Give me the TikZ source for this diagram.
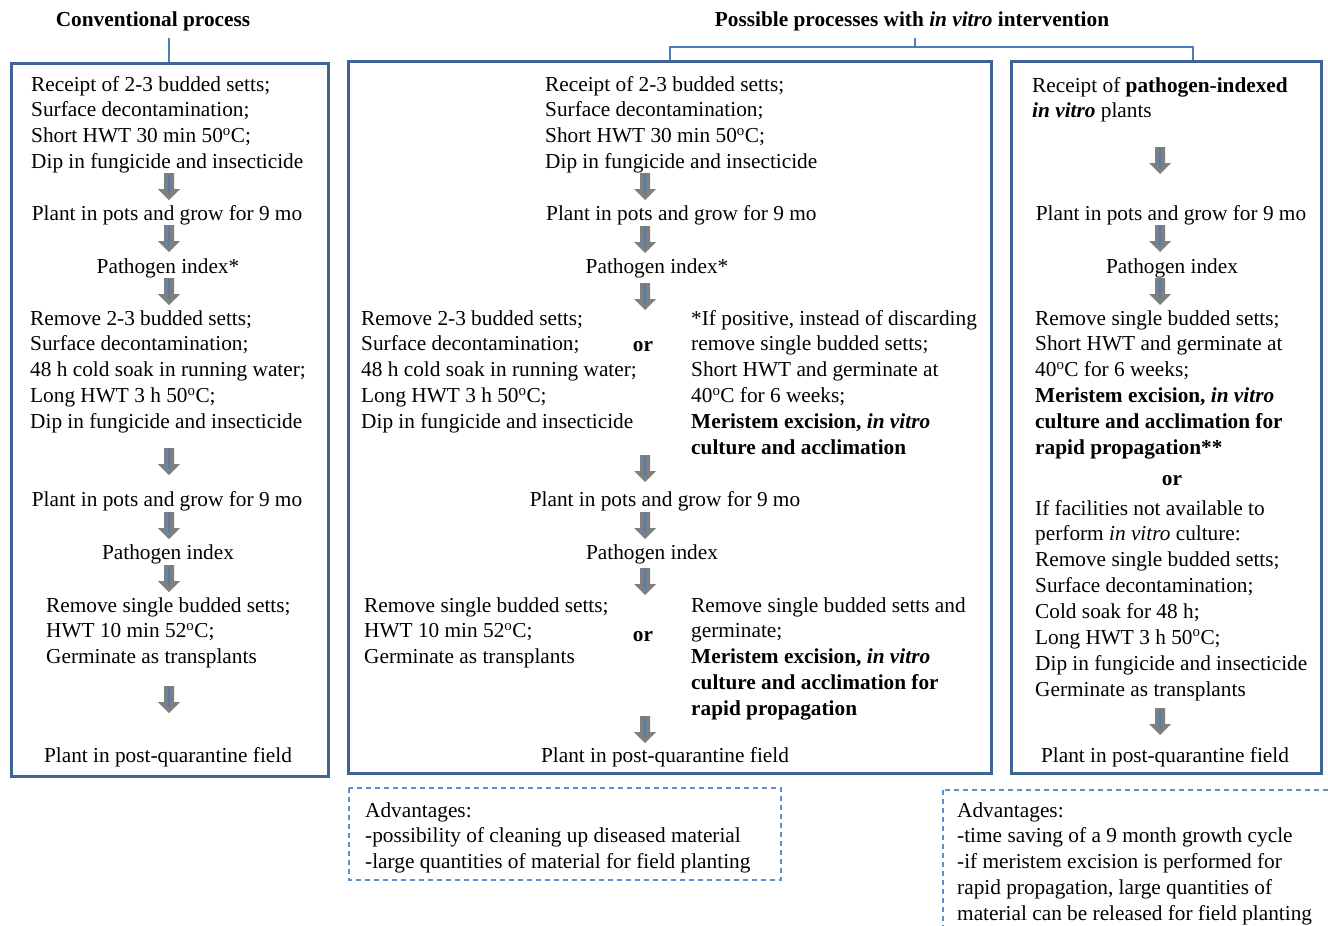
\documentclass[tikz,border=0pt]{standalone}
\usepackage{fontspec}
\setmainfont{Liberation Serif}
\definecolor{boxblue}{HTML}{3F6596}
\definecolor{linkblue}{HTML}{4A7EBB}
\definecolor{dashblue}{HTML}{5B8FD0}
\definecolor{arrgray}{HTML}{7F7F7F}
\newcommand{\dg}{\textsuperscript{o}}
% multi-line nodes are placed by the baseline of their last line
\tikzset{
  txt/.style={inner sep=0pt, anchor=base west, align=left, font=\fontsize{21.3}{25.9}\selectfont},
  ctxt/.style={inner sep=0pt, anchor=base, align=center, font=\fontsize{21.3}{25.9}\selectfont},
  btxt/.style={ctxt, font=\fontsize{21.3}{25.9}\selectfont\bfseries},
  mainbox/.style={draw=boxblue, line width=3pt, inner sep=0pt, anchor=north west},
  advbox/.style={draw=dashblue, line width=1.2pt, dash pattern=on 5pt off 4pt},
  link/.style={draw=linkblue, line width=2pt},
  downarr/.pic={
    \fill[arrgray] (-5,0) -- (5,0) -- (5,16) -- (11,16) -- (0,27) -- (-11,16) -- (-5,16) -- cycle;
    \draw[linkblue, line width=1.2pt] (0,1) -- (0,21);
  }
}
\begin{document}
\begin{tikzpicture}[x=1pt,y=-1pt]
\useasboundingbox (0,0) rectangle (1328,926);
\clip (0,0) rectangle (1328,926);

% titles
\node[btxt] (T1) at (153,26) {Conventional process};
\node[btxt] (T2) at (912,26) {Possible processes with \textit{in vitro} intervention};

% main boxes
\node[mainbox, minimum width=317pt, minimum height=713pt] (boxL) at (10,62) {};
\node[mainbox, minimum width=643pt, minimum height=712pt] (boxM) at (347,60) {};
\node[mainbox, minimum width=310pt, minimum height=712pt] (boxR) at (1010,60) {};

% connectors from titles
\coordinate (cL) at (169,38);
\draw[link] (cL) -- (cL |- boxL.north);
\coordinate (cT) at (915,38);
\coordinate (cH) at (915,47);
\coordinate (cR) at (1193,47);
\draw[link] (cT) -- (cH);
\draw[link] (boxM.north) -- (boxM.north |- cH) -- (cR) -- (cR |- boxR.north);

% ---------- left column ----------
\node[txt] (L1) at (31,168.7) {Receipt of 2-3 budded setts;\\Surface decontamination;\\Short HWT 30 min 50\dg C;\\Dip in fungicide and insecticide};
\pic at (169,173) {downarr};
\node[ctxt] (L2) at (167,220) {Plant in pots and grow for 9 mo};
\pic at (169,225) {downarr};
\node[ctxt] (L3) at (168,273) {Pathogen index*};
\pic at (169,278) {downarr};
\node[txt] (L4) at (30,428.6) {Remove 2-3 budded setts;\\Surface decontamination;\\48 h cold soak in running water;\\Long HWT 3 h 50\dg C;\\Dip in fungicide and insecticide};
\pic at (169,448) {downarr};
\node[ctxt] (L5) at (167,506) {Plant in pots and grow for 9 mo};
\pic at (169,512) {downarr};
\node[ctxt] (L6) at (168,559) {Pathogen index};
\pic at (169,565) {downarr};
\node[txt] (L7) at (46,663.8) {Remove single budded setts;\\HWT 10 min 52\dg C;\\Germinate as transplants};
\pic at (169,686) {downarr};
\node[ctxt] (L8) at (168,762) {Plant in post-quarantine field};

% ---------- middle column ----------
\node[txt] (M1) at (545,168.7) {Receipt of 2-3 budded setts;\\Surface decontamination;\\Short HWT 30 min 50\dg C;\\Dip in fungicide and insecticide};
\pic at (645,173) {downarr};
\node[txt] (M2) at (546,220) {Plant in pots and grow for 9 mo};
\pic at (645,226) {downarr};
\node[ctxt] (M3) at (657,273) {Pathogen index*};
\pic at (645,283) {downarr};
\node[txt] (M4) at (361,428.6) {Remove 2-3 budded setts;\\Surface decontamination;\\48 h cold soak in running water;\\Long HWT 3 h 50\dg C;\\Dip in fungicide and insecticide};
\node[btxt] (Mor1) at (643,351) {or};
\node[txt] (M5) at (691,454.5) {*If positive, instead of discarding\\remove single budded setts;\\Short HWT and germinate at\\40\dg C for 6 weeks;\\\textbf{Meristem excision, \textit{in vitro}}\\\textbf{culture and acclimation}};
\pic at (645,455) {downarr};
\node[ctxt] (M6) at (665,506) {Plant in pots and grow for 9 mo};
\pic at (645,512) {downarr};
\node[ctxt] (M7) at (652,559) {Pathogen index};
\pic at (645,568) {downarr};
\node[txt] (M8) at (364,663.8) {Remove single budded setts;\\HWT 10 min 52\dg C;\\Germinate as transplants};
\node[btxt] (Mor2) at (643,641) {or};
\node[txt] (M9) at (691,715.6) {Remove single budded setts and\\germinate;\\\textbf{Meristem excision, \textit{in vitro}}\\\textbf{culture and acclimation for}\\\textbf{rapid propagation}};
\pic at (645,716) {downarr};
\node[ctxt] (M10) at (665,762) {Plant in post-quarantine field};

% ---------- right column ----------
\node[txt] (R1) at (1032,117.9) {Receipt of \textbf{pathogen-indexed}\\\textbf{\textit{in vitro}} plants};
\pic at (1160,147) {downarr};
\node[ctxt] (R2) at (1171,220) {Plant in pots and grow for 9 mo};
\pic at (1160,225) {downarr};
\node[ctxt] (R3) at (1172,273) {Pathogen index};
\pic at (1160,278) {downarr};
\node[txt] (R4) at (1035,454.5) {Remove single budded setts;\\Short HWT and germinate at\\40\dg C for 6 weeks;\\\textbf{Meristem excision, \textit{in vitro}}\\\textbf{culture and acclimation for}\\\textbf{rapid propagation**}};
\node[btxt] (Ror) at (1172,485) {or};
\node[txt] (R5) at (1035,696.3) {If facilities not available to\\perform \textit{in vitro} culture:\\Remove single budded setts;\\Surface decontamination;\\Cold soak for 48 h;\\Long HWT 3 h 50\dg C;\\Dip in fungicide and insecticide\\Germinate as transplants};
\pic at (1160,708) {downarr};
\node[ctxt] (R6) at (1165,762) {Plant in post-quarantine field};

% ---------- advantages ----------
\draw[advbox] (349,788) rectangle (781,880);
\node[txt] (A1) at (365,868.8) {Advantages:\\-possibility of cleaning up diseased material\\-large quantities of material for field planting};
\draw[advbox] (943,790) rectangle (1345,945);
\node[txt] (A2) at (957,920.6) {Advantages:\\-time saving of a 9 month growth cycle\\-if meristem excision is performed for\\rapid propagation, large quantities of\\material can be released for field planting};
\end{tikzpicture}
\end{document}
